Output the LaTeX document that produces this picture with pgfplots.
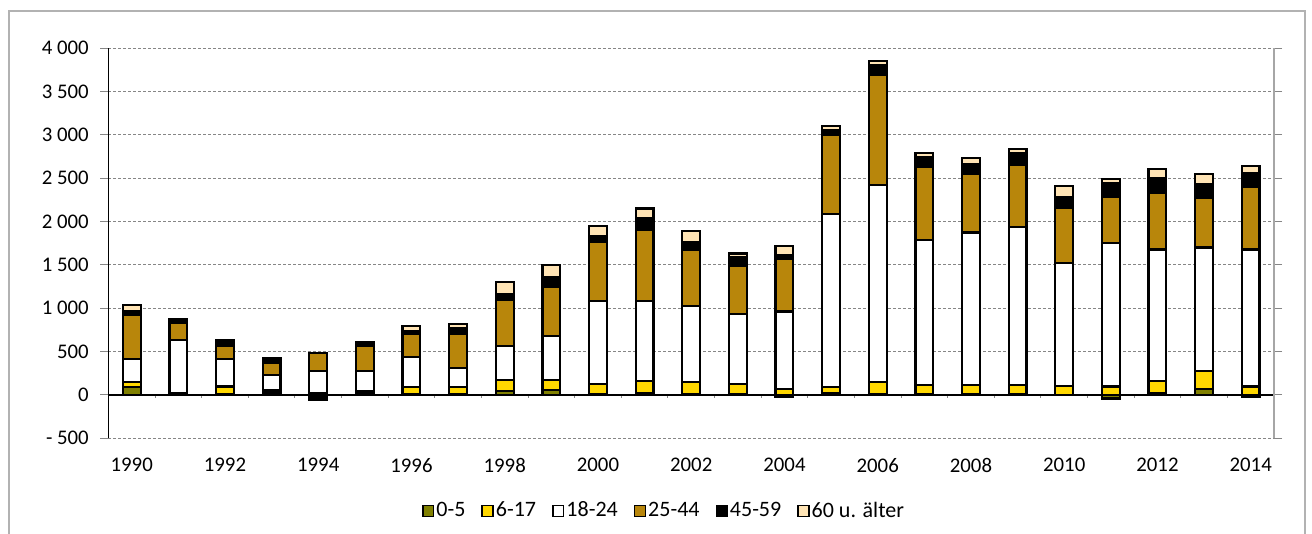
\documentclass[border=0pt]{standalone}
\usepackage{pgfplots}
\pgfplotsset{compat=1.18}
\usepackage{pgfplotstable}
\usepackage{fontspec}
\setmainfont{Carlito}

\definecolor{cnull}{HTML}{808000}
\definecolor{csechs}{HTML}{FFD700}
\definecolor{cmitte}{HTML}{B8860B}
\definecolor{calt}{HTML}{FFE4B5}
\definecolor{gridgray}{HTML}{868686}

% positive parts, one column per age group
\pgfplotstableread{
year a b c d e f
1990 90 58 262 508 50 66
1991 5 15 617 192 50 0
1992 5 93 312 150 77 0
1993 20 32 181 135 57 0
1994 5 15 255 208 0 0
1995 20 30 225 285 50 0
1996 5 90 342 270 25 60
1997 10 80 220 389 73 50
1998 50 125 385 531 77 135
1999 55 120 500 570 108 142
2000 15 115 950 685 65 116
2001 25 135 920 820 135 115
2002 15 133 874 654 89 127
2003 10 118 801 555 100 46
2004 0 70 893 609 39 104
2005 20 70 1995 915 50 50
2006 15 133 2272 1270 110 50
2007 15 103 1667 839 116 47
2008 15 103 1756 670 116 70
2009 10 100 1830 712 140 40
2010 0 100 1424 627 135 123
2011 0 98 1655 533 160 44
2012 25 135 1516 648 174 104
2013 65 210 1425 577 154 116
2014 0 98 1578 724 162 78
}\pos

% negative parts (stacked down from zero)
\pgfplotstableread{
year a e
1990 0 0
1991 0 0
1992 0 0
1993 0 0
1994 0 -55
1995 0 0
1996 0 0
1997 0 0
1998 0 0
1999 0 0
2000 0 0
2001 0 0
2002 0 0
2003 0 0
2004 -20 0
2005 0 0
2006 0 0
2007 0 0
2008 0 0
2009 0 0
2010 0 0
2011 -40 0
2012 0 0
2013 0 0
2014 -25 0
}\negs

\pgfplotsset{
  geom/.style={
    at={(54.2pt,-219.15pt)}, anchor=south west,
    scale only axis, width=582.8pt, height=195.15pt,
    xmin=-0.5, xmax=24.5, ymin=-500, ymax=4000,
    ybar stacked, bar width=8.9pt, clip=false,
  },
  seg/.style={fill=#1, draw=black, line width=1.1pt,
    legend image code/.code={\draw[fill=#1, draw=black, line width=0.8pt] (0pt,-2.7pt) rectangle (5.4pt,2.7pt);}},
}

\begin{document}
\begin{tikzpicture}
\useasboundingbox (0,0) rectangle (656pt,-267pt);
\draw[gray!60, line width=0.8pt] (4.5pt,-5.5pt) rectangle (652.5pt,-280pt);

\begin{axis}[geom,
  axis line style={draw=none},
  ymajorgrids,
  grid style={gridgray, dash pattern=on 1.5pt off 1pt, line width=0.5pt},
  ytick={-500,0,500,1000,1500,2000,2500,3000,3500,4000},
  yticklabels={- 500,0,500,1 000,1 500,2 000,2 500,3 000,3 500,4 000},
  ytick style={draw=gridgray, line width=0.5pt},
  tick align=outside, major tick length=4pt,
  yticklabel style={xshift=-2.3pt},
  xtick={0,2,4,6,8,10,12,14,16,18,20,22,24},
  xticklabels={1990,1992,1994,1996,1998,2000,2002,2004,2006,2008,2010,2012,2014},
  xtick style={draw=none},
  xticklabel style={yshift=-2.5pt},
  every tick label/.append style={font=\fontsize{10.4}{12}\selectfont},
  legend columns=-1,
  legend style={draw=none, fill=none, at={(0.4767,-0.186)}, anchor=center,
    font=\fontsize{11}{13}\selectfont, nodes={inner xsep=1pt},
    /tikz/every even column/.append style={column sep=7pt}},
]
\draw[black, line width=0.6pt] (axis cs:-0.5,-500) -- (axis cs:-0.5,4000);
\draw[gray!70, line width=0.9pt] (axis cs:24.5,-500) -- (axis cs:24.5,4000);
\draw[black, line width=0.6pt] (axis cs:-0.5,0) -- (axis cs:24.5,0);
\pgfplotsinvokeforeach{0.5,1.5,2.5,3.5,4.5,5.5,6.5,7.5,8.5,9.5,10.5,11.5,12.5,13.5,14.5,15.5,16.5,17.5,18.5,19.5,20.5,21.5,22.5,23.5}{
  \draw[gridgray, line width=0.5pt] (axis cs:#1,0) -- (axis cs:#1,-38);
}
\addplot[seg=cnull] table[x expr=\thisrow{year}-1990,y=a]{\pos};
\addplot[seg=csechs] table[x expr=\thisrow{year}-1990,y=b]{\pos};
\addplot[seg=white] table[x expr=\thisrow{year}-1990,y=c]{\pos};
\addplot[seg=cmitte] table[x expr=\thisrow{year}-1990,y=d]{\pos};
\addplot[seg=black] table[x expr=\thisrow{year}-1990,y=e]{\pos};
\addplot[seg=calt] table[x expr=\thisrow{year}-1990,y=f]{\pos};
\legend{0-5,6-17,18-24,25-44,45-59,60 u. älter}
\end{axis}

\begin{axis}[geom, hide axis]
\addplot[seg=cnull] table[x expr=\thisrow{year}-1990,y=a]{\negs};
\addplot[seg=black] table[x expr=\thisrow{year}-1990,y=e]{\negs};
\end{axis}
\end{tikzpicture}
\end{document}
